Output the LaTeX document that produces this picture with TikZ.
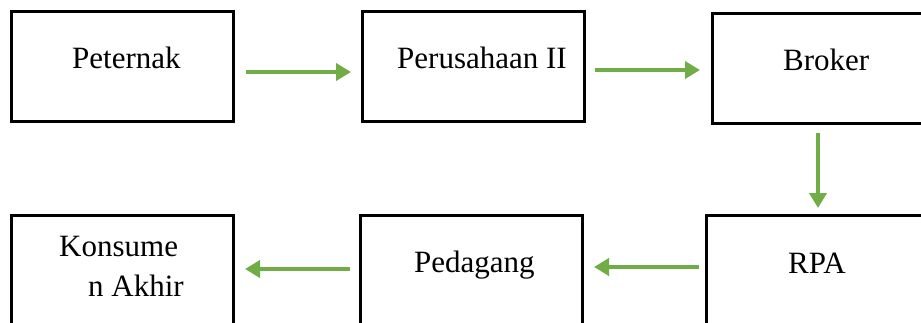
\documentclass[tikz,border=0pt]{standalone}
\usepackage{fontspec}
\setmainfont{Liberation Serif}
\usetikzlibrary{arrows.meta}
\definecolor{flowgreen}{HTML}{70AD47}
\begin{document}
\begin{tikzpicture}[x=1pt,y=-1pt,
  stage/.style={draw=black,line width=3pt,rectangle,inner sep=0pt,
    minimum width=222pt,minimum height=110pt},
  lbl/.style={anchor=base west,inner sep=0pt,
    font=\fontsize{31}{40}\selectfont},
  flow/.style={draw=flowgreen,line width=4.2pt,
    -{Triangle[length=15pt,width=17pt]}}]
\useasboundingbox (0,0) rectangle (921,322);
\begin{scope}
\clip (0,0) rectangle (921,322);
% top row
\node[stage] (peternak) at (122,66) {};
\node[stage] (perusahaan) at (473,66) {};
\node[stage] (broker) at (823,68) {};
% bottom row
\node[stage] (konsumen) at (122,270) {};
\node[stage] (pedagang) at (471,270) {};
\node[stage] (rpa) at (817,270) {};
\end{scope}
% labels
\node[lbl] (t-peternak) at (72,68) {Peternak};
\node[lbl] (t-perusahaan) at (397,68) {Perusahaan II};
\node[lbl] (t-broker) at (783,70) {Broker};
\node[lbl] (t-rpa) at (788,273) {RPA};
\node[lbl] (t-pedagang) at (414,272) {Pedagang};
\node[lbl] (t-kons1) at (59,256) {Konsume};
\node[lbl] (t-kons2) at (88,296) {n Akhir};
% connector end points
\coordinate (a1s) at (246,72);  \coordinate (a1e) at (351,72);
\coordinate (a2s) at (595,70);  \coordinate (a2e) at (700,70);
\coordinate (a3s) at (818,133); \coordinate (a3e) at (818,208);
\coordinate (a4s) at (699,267); \coordinate (a4e) at (594,267);
\coordinate (a5s) at (350,269); \coordinate (a5e) at (245,269);
\draw[flow] (a1s) -- (a1e);
\draw[flow] (a2s) -- (a2e);
\draw[flow] (a3s) -- (a3e);
\draw[flow] (a4s) -- (a4e);
\draw[flow] (a5s) -- (a5e);
\end{tikzpicture}
\end{document}
